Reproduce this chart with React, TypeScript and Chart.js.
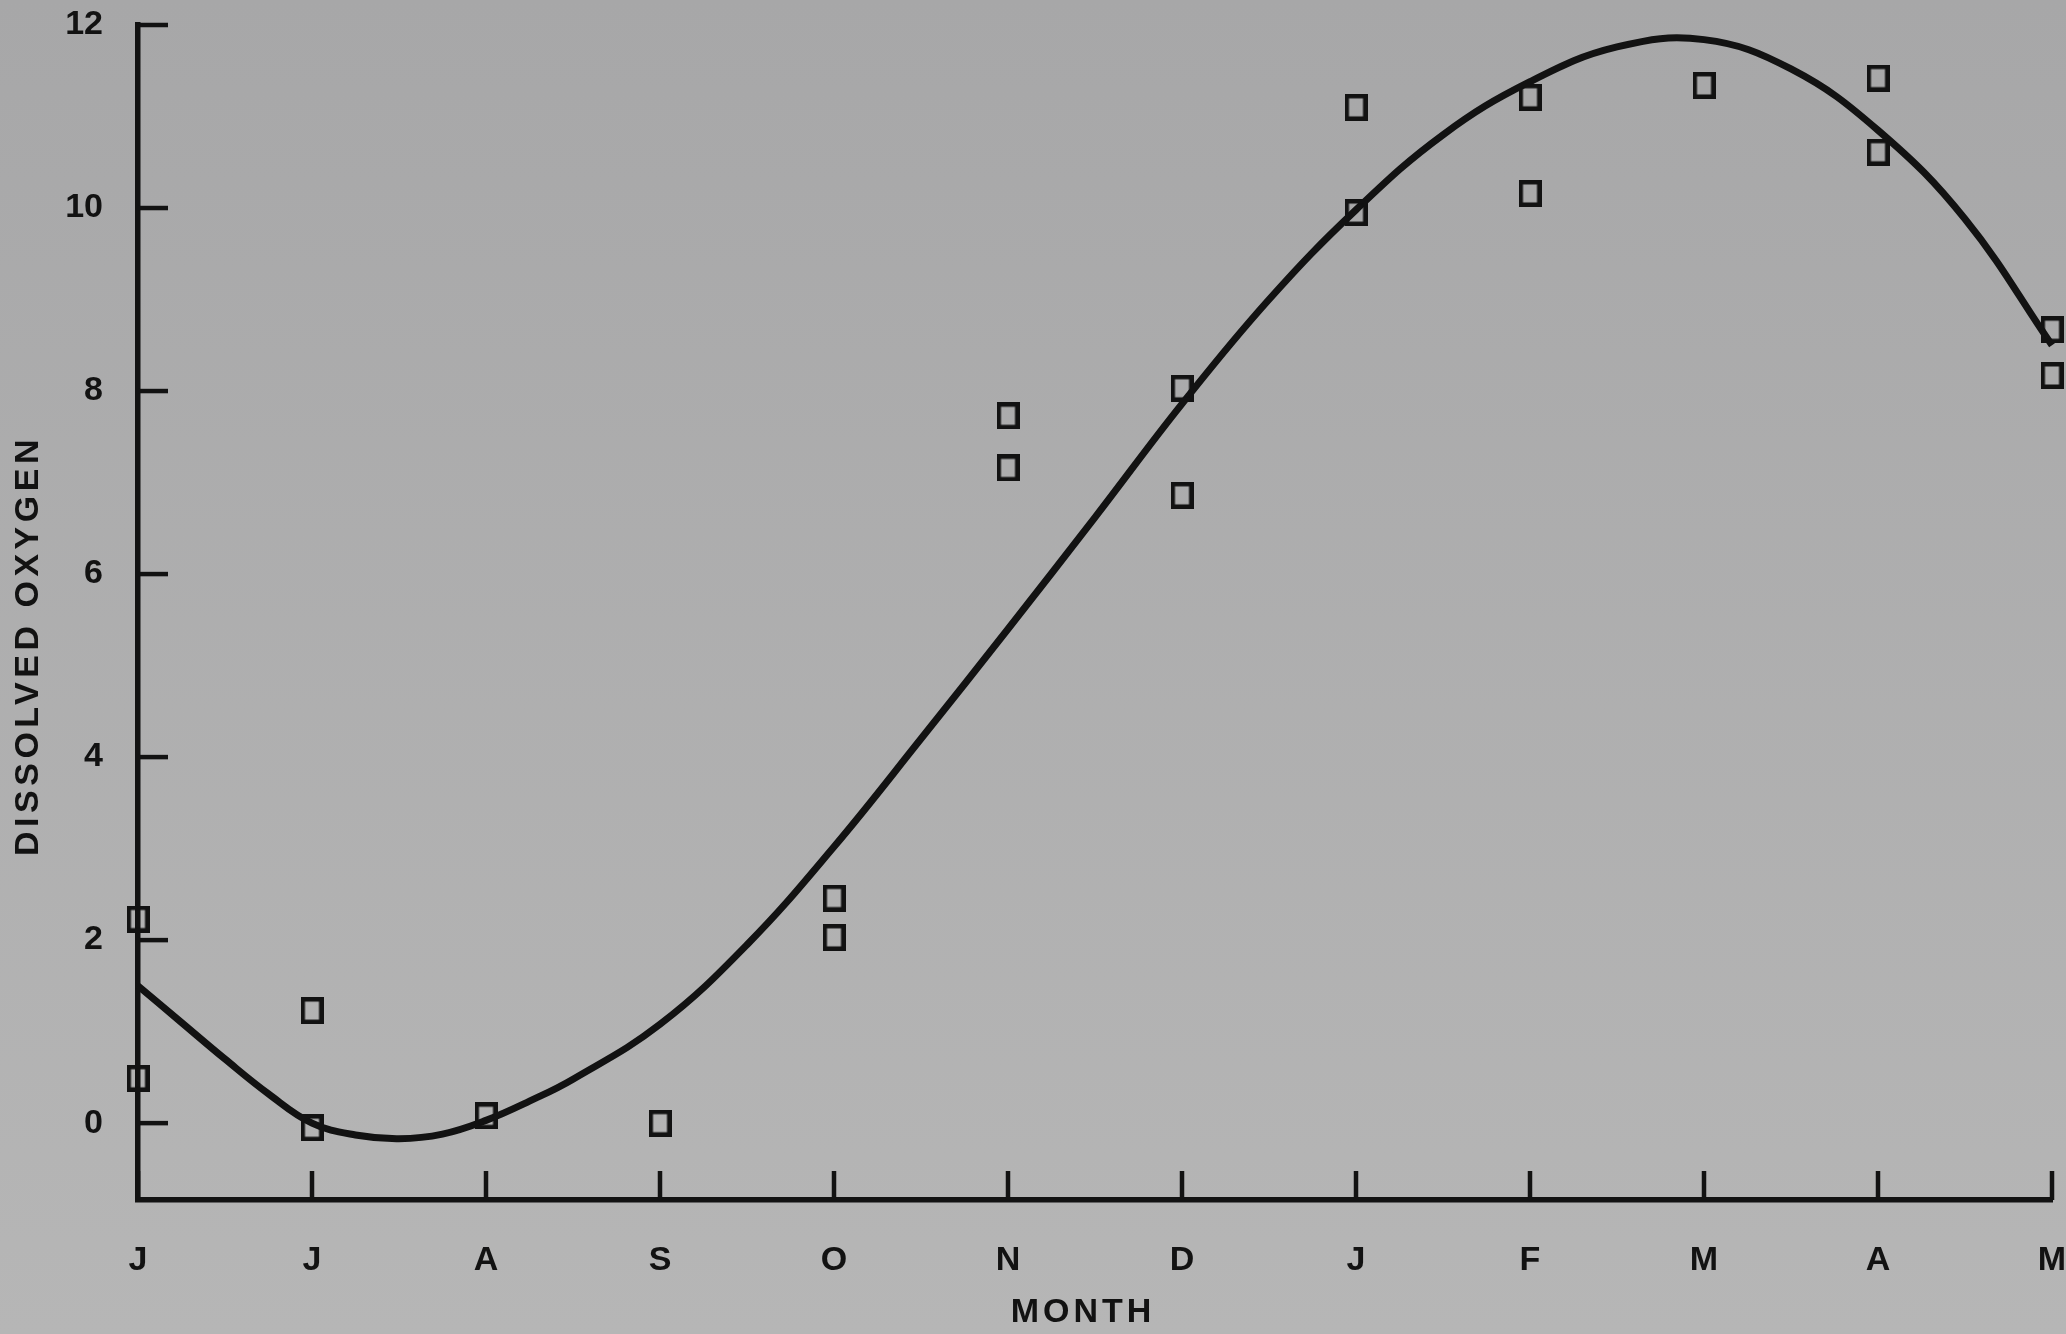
import React, { useEffect, useRef } from 'react';
import { Chart, registerables } from 'chart.js';

Chart.register(...registerables);

// Month initials along the horizontal axis (June through May)
const MONTH_LABELS = ['J', 'J', 'A', 'S', 'O', 'N', 'D', 'J', 'F', 'M', 'A', 'M'];
const X_TICKS = [0, 1, 2, 3, 4, 5, 6, 7, 8, 9, 10, 11];
const Y_TICKS = [0, 2, 4, 6, 8, 10, 12];
const Y_MIN = -0.84;
const Y_MAX = 12;

// Measured dissolved oxygen samples: month index and value
const sampleMonth = [0, 0, 1, 1, 2, 3, 4, 4, 5, 5, 6, 6, 7, 7, 8, 8, 9, 10, 10, 11, 11];
const sampleValue = [
  2.23, 0.49, 1.23, -0.05, 0.08, 0.0, 2.46, 2.03, 7.73, 7.16, 8.03, 6.86,
  11.1, 9.95, 11.21, 10.16, 11.34, 11.42, 10.61, 8.67, 8.17,
];

// Fitted seasonal curve
const fitMonth = [
  0, 0.25, 0.5, 0.75, 1, 1.25, 1.5, 1.75, 2, 2.25, 2.5, 3, 3.5, 4, 4.5, 5, 5.5,
  6, 6.5, 7, 7.5, 8, 8.5, 9, 9.5, 10, 10.5, 11,
];
const fitValue = [
  1.5, 1.1, 0.7, 0.32, 0.0, -0.13, -0.17, -0.12, 0.03, 0.24, 0.48, 1.08, 1.95,
  3.02, 4.2, 5.4, 6.62, 7.86, 9.0, 9.98, 10.8, 11.38, 11.76, 11.84, 11.52,
  10.85, 9.88, 8.5,
];

const INK = '#121212';
const FONT = '"Liberation Sans", Arial, Helvetica, sans-serif';
const WIDTH = 2066;
const HEIGHT = 1334;

export default function App() {
  const ref = useRef<HTMLCanvasElement>(null);

  useEffect(() => {
    document.body.style.margin = '0';
    const canvas = ref.current;
    if (!canvas) return;

    // open square marker, a little taller than wide
    const marker = document.createElement('canvas');
    marker.width = 23;
    marker.height = 27;
    const m = marker.getContext('2d')!;
    m.strokeStyle = INK;
    m.lineWidth = 4.5;
    m.strokeRect(2.25, 2.25, 18.5, 22.5);

    const paper = {
      id: 'paper',
      beforeDraw(chart: any) {
        const { ctx, width, height } = chart;
        const g = ctx.createLinearGradient(0, 0, 0, height);
        g.addColorStop(0, '#a7a7a8');
        g.addColorStop(1, '#b6b6b6');
        ctx.save();
        ctx.fillStyle = g;
        ctx.fillRect(0, 0, width, height);
        ctx.restore();
      },
    };

    // tick marks pointing into the plot area
    const inwardTicks = {
      id: 'inwardTicks',
      beforeDatasetsDraw(chart: any) {
        const { ctx, chartArea, scales } = chart;
        ctx.save();
        ctx.strokeStyle = INK;
        ctx.lineWidth = 4.5;
        for (const v of Y_TICKS) {
          const y = scales.y.getPixelForValue(v);
          ctx.beginPath();
          ctx.moveTo(chartArea.left, y);
          ctx.lineTo(chartArea.left + 30, y);
          ctx.stroke();
        }
        for (const v of X_TICKS) {
          const x = scales.x.getPixelForValue(v);
          ctx.beginPath();
          ctx.moveTo(x, chartArea.bottom);
          ctx.lineTo(x, chartArea.bottom - 29);
          ctx.stroke();
        }
        ctx.restore();
      },
    };

    const axisTitles = {
      id: 'axisTitles',
      afterDraw(chart: any) {
        const { ctx, chartArea } = chart;
        ctx.save();
        ctx.fillStyle = INK;
        ctx.font = `bold 34px ${FONT}`;
        ctx.textAlign = 'center';
        ctx.textBaseline = 'middle';
        ctx.letterSpacing = '4px';
        ctx.fillText('MONTH', (chartArea.left + chartArea.right) / 2 - 12, chartArea.bottom + 113);
        ctx.letterSpacing = '4.5px';
        ctx.translate(29, (chartArea.top + chartArea.bottom) / 2 + 33);
        ctx.rotate(-Math.PI / 2);
        ctx.fillText('DISSOLVED OXYGEN', 0, 0);
        ctx.letterSpacing = '0px';
        ctx.restore();
      },
    };

    const tickFont = { family: FONT, size: 34, weight: 'bold' as const };

    const chart = new Chart(canvas, {
      type: 'scatter',
      data: {
        datasets: [
          {
            label: 'fit',
            data: fitMonth.map((x, i) => ({ x, y: fitValue[i] })),
            showLine: true,
            borderColor: INK,
            borderWidth: 7,
            pointRadius: 0,
            tension: 0.4,
            clip: false,
            order: 1,
          },
          {
            label: 'observed',
            data: sampleMonth.map((x, i) => ({ x, y: sampleValue[i] })),
            pointStyle: marker,
            pointRadius: 12,
            showLine: false,
            clip: false,
            order: 0,
          },
        ],
      },
      options: {
        responsive: false,
        animation: false,
        devicePixelRatio: 1,
        events: [],
        layout: { padding: { top: 25, right: 14, bottom: 0, left: 0 } },
        plugins: { legend: { display: false }, tooltip: { enabled: false } },
        scales: {
          x: {
            type: 'linear',
            position: 'bottom',
            min: 0,
            max: 11,
            afterBuildTicks: (s: any) => {
              s.ticks = X_TICKS.map((v) => ({ value: v }));
            },
            afterFit: (s: any) => {
              s.height = 134;
              s.paddingLeft = 0;
              s.paddingRight = 0;
            },
            grid: { display: true, drawOnChartArea: false, drawTicks: false },
            border: { display: true, color: INK, width: 5.5 },
            ticks: {
              autoSkip: false,
              maxRotation: 0,
              padding: 40,
              color: INK,
              font: tickFont,
              callback: (v: any) => MONTH_LABELS[v as number],
            },
          },
          y: {
            type: 'linear',
            position: 'left',
            min: Y_MIN,
            max: Y_MAX,
            afterBuildTicks: (s: any) => {
              s.ticks = Y_TICKS.map((v) => ({ value: v }));
            },
            afterFit: (s: any) => {
              s.width = 138;
              s.paddingTop = 0;
              s.paddingBottom = 0;
            },
            grid: { display: true, drawOnChartArea: false, drawTicks: false },
            border: { display: true, color: INK, width: 5.5 },
            ticks: {
              padding: 35,
              color: INK,
              font: tickFont,
              callback: (v: any) => String(v),
            },
          },
        },
      },
      plugins: [paper, inwardTicks, axisTitles],
    } as any);

    return () => chart.destroy();
  }, []);

  return (
    <div style={{ position: 'absolute', left: 0, top: 0, width: WIDTH, height: HEIGHT }}>
      <canvas ref={ref} width={WIDTH} height={HEIGHT} style={{ display: 'block' }} />
    </div>
  );
}
